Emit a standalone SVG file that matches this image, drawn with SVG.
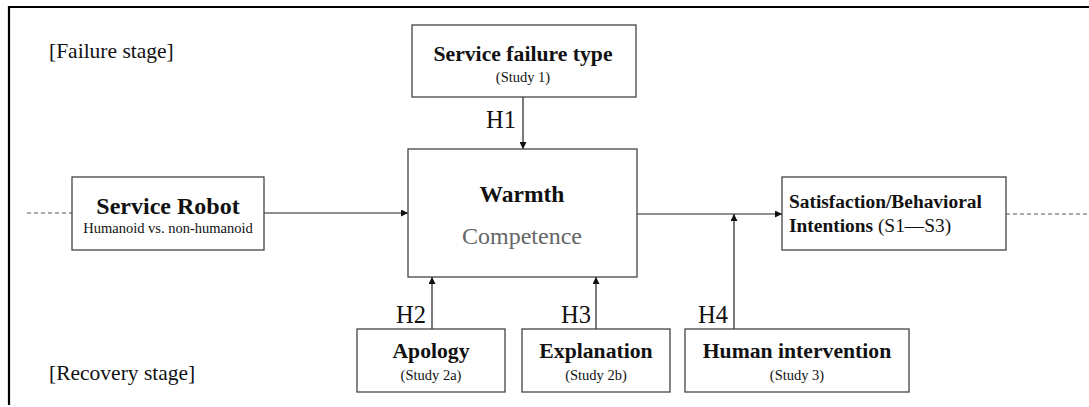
<svg xmlns="http://www.w3.org/2000/svg" width="1089" height="407" viewBox="0 0 1089 407">
<style>
text{font-family:"Liberation Serif","Times New Roman",serif;fill:#111}
.box{fill:#fff;stroke:#444;stroke-width:1.3}
.ln{stroke:#222;stroke-width:1.2;fill:none}
.dash{stroke:#555;stroke-width:1;stroke-dasharray:4 3;fill:none}
.b{font-weight:bold}
.c{text-anchor:middle}
.h{font-size:24.5px}
.s{font-size:14.5px}
</style>
<defs>
<marker id="ah" viewBox="0 0 10 10" refX="10" refY="5" markerWidth="7" markerHeight="7" markerUnits="userSpaceOnUse" orient="auto">
<path d="M0,0 L10,5 L0,10 z" fill="#111"/>
</marker>
</defs>
<rect width="1089" height="407" fill="#fff"/>
<path d="M9,405 V7 H1089" stroke="#000" stroke-width="2.2" fill="none"/>
<text x="49" y="58" font-size="21.5">[Failure stage]</text>
<text x="49" y="380" font-size="21.5">[Recovery stage]</text>
<g id="connectors">
<line class="dash" x1="27" y1="213" x2="72" y2="213"/>
<line class="dash" x1="1006" y1="214" x2="1089" y2="214"/>
<line class="ln" x1="264" y1="213" x2="408" y2="213" marker-end="url(#ah)"/>
<line class="ln" x1="637" y1="214" x2="782" y2="214" marker-end="url(#ah)"/>
<line class="ln" x1="523" y1="97" x2="523" y2="149" marker-end="url(#ah)"/>
<line class="ln" x1="432" y1="329" x2="432" y2="277" marker-end="url(#ah)"/>
<line class="ln" x1="596" y1="329" x2="596" y2="277" marker-end="url(#ah)"/>
<line class="ln" x1="734" y1="329" x2="734" y2="214" marker-end="url(#ah)"/>
<text class="h" x="486" y="128">H1</text>
<text class="h" x="396" y="323">H2</text>
<text class="h" x="561" y="323">H3</text>
<text class="h" x="698" y="323">H4</text>
</g>
<g id="failure-type">
<rect class="box" x="412" y="25" width="224" height="72"/>
<text class="b c" x="523" y="61" font-size="21.7">Service failure type</text>
<text class="c s" x="523" y="82">(Study 1)</text>
</g>
<g id="robot">
<rect class="box" x="72" y="177" width="192" height="73"/>
<text class="b c" x="168" y="214" font-size="24">Service Robot</text>
<text class="c" x="168" y="233" font-size="14.5">Humanoid vs. non-humanoid</text>
</g>
<g id="warmth">
<rect class="box" x="408" y="149" width="229" height="128"/>
<text class="b c" x="522" y="202" font-size="23.5">Warmth</text>
<text class="c" x="522" y="244" font-size="24" style="fill:#666">Competence</text>
</g>
<g id="outcome">
<rect class="box" x="782" y="177" width="224" height="73"/>
<text class="b" x="789" y="208" font-size="19.4">Satisfaction/Behavioral</text>
<text x="789" y="232" font-size="19.4"><tspan class="b">Intentions</tspan> (S1—S3)</text>
</g>
<g id="apology">
<rect class="box" x="357" y="329" width="148" height="63"/>
<text class="b c" x="431" y="358" font-size="21.7">Apology</text>
<text class="c s" x="431" y="380">(Study 2a)</text>
</g>
<g id="explanation">
<rect class="box" x="522" y="329" width="148" height="63"/>
<text class="b c" x="596" y="358" font-size="21.7">Explanation</text>
<text class="c s" x="596" y="380">(Study 2b)</text>
</g>
<g id="human">
<rect class="box" x="685" y="329" width="224" height="63"/>
<text class="b c" x="797" y="358" font-size="21.7">Human intervention</text>
<text class="c s" x="797" y="380">(Study 3)</text>
</g>
</svg>
